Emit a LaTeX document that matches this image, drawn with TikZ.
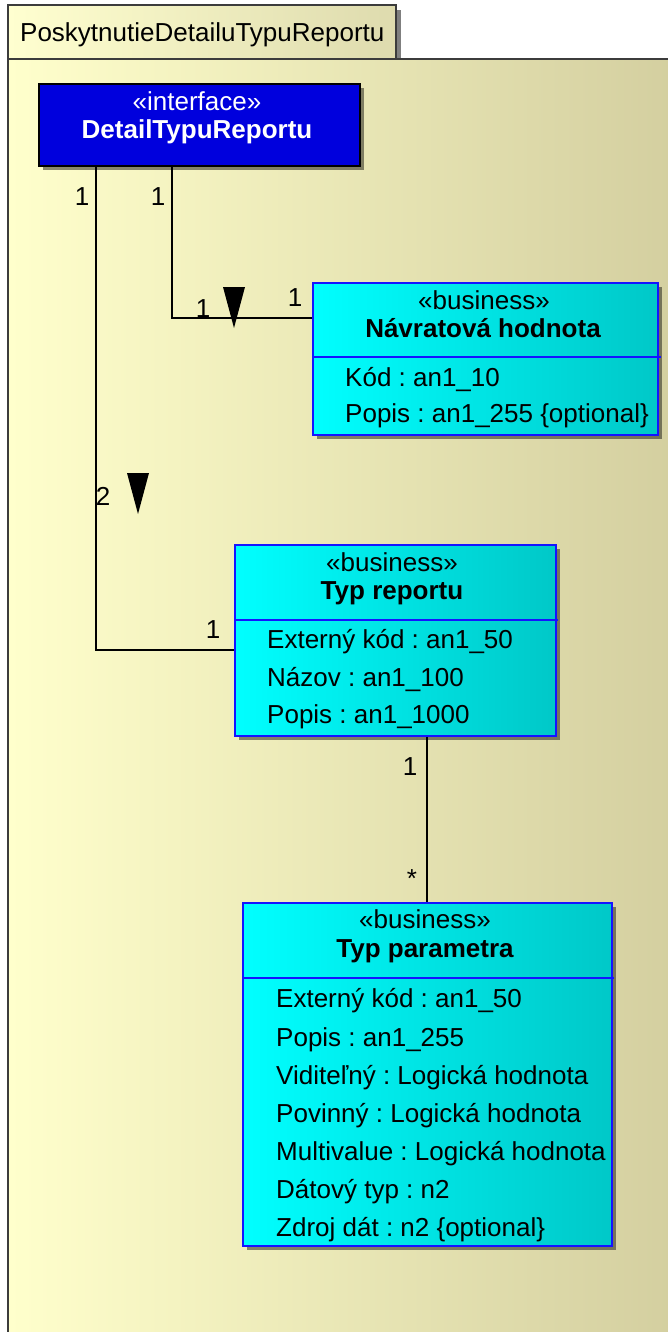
\documentclass[tikz,border=0pt]{standalone}
\usepackage{fontspec}
\setmainfont{Liberation Sans}
\usetikzlibrary{shadows, calc}
\definecolor{pkgleft}{RGB}{255,255,204}
\definecolor{pkgright}{RGB}{210,205,158}
\definecolor{tableft}{RGB}{255,255,208}
\definecolor{tabright}{RGB}{222,219,174}
\definecolor{framegray}{RGB}{60,60,60}
\definecolor{ifaceblue}{RGB}{0,0,221}
\definecolor{bizleft}{RGB}{0,255,255}
\definecolor{bizright}{RGB}{0,200,200}
\definecolor{bizborder}{RGB}{20,20,255}
\frenchspacing

\begin{document}
\begin{tikzpicture}[x=1pt, y=-1pt,
    every node/.style={font=\fontsize{26}{31}\selectfont, inner sep=0pt},
    umlshadow/.style={drop shadow={shadow xshift=4pt, shadow yshift=-4pt, fill=black, opacity=0.45}},
    ifacebox/.style={draw=black, line width=2pt, fill=ifaceblue, anchor=north west, umlshadow},
    bizbox/.style={draw=bizborder, line width=1.8pt, left color=bizleft, right color=bizright, anchor=north west, umlshadow},
    divider/.style={draw=bizborder, line width=1.8pt},
    stereo/.style={anchor=base},
    title/.style={anchor=base, font=\fontsize{26}{31}\selectfont\bfseries},
    attr/.style={anchor=base west},
    mult/.style={anchor=base},
    assoc/.style={line width=1.5pt, black}]

  \useasboundingbox (0,0) rectangle (668,1332);
  \clip (0,0) rectangle (668,1332);
  \fill[white] (0,0) rectangle (668,1332);

  % package frame
  \draw[framegray, line width=1.5pt, left color=tableft, right color=tabright,
        drop shadow={shadow xshift=5pt, shadow yshift=-5pt, fill=black, opacity=0.5}]
    (8,5) rectangle (396,59);
  \node[anchor=base west] (pkgname) at (20,42) {PoskytnutieDetailuTypuReportu};
  \draw[framegray, line width=1.5pt, left color=pkgleft, right color=pkgright]
    (8,59) rectangle (700,1360);

  % interface
  \node[ifacebox, minimum width=321pt, minimum height=82pt] (iface) at (38,83) {};
  \node[stereo, text=white] (ifacest) at (197,111) {«interface»};
  \node[title, text=white] (ifacename) at (197,139) {DetailTypuReportu};

  % Navratova hodnota
  \node[bizbox, minimum width=345pt, minimum height=152pt] (navrat) at (312,282) {};
  \draw[divider] (312,357) -- (661,357);
  \node[stereo] (navratst) at (484,309) {«business»};
  \node[title] (navratname) at (483,337) {Návratová hodnota};
  \node[attr] (navrat1) at (345,386) {Kód : an1\_10};
  \node[attr] (navrat2) at (345,422) {Popis : an1\_255 \{optional\}};

  % Typ reportu
  \node[bizbox, minimum width=321pt, minimum height=191pt] (typrep) at (234,544) {};
  \draw[divider] (234,620) -- (558,620);
  \node[stereo] (typrepst) at (392,571) {«business»};
  \node[title] (typrepname) at (392,599) {Typ reportu};
  \node[attr] (typrep1) at (267,648) {Externý kód : an1\_50};
  \node[attr] (typrep2) at (267,686) {Názov : an1\_100};
  \node[attr] (typrep3) at (267,723) {Popis : an1\_1000};

  % Typ parametra
  \node[bizbox, minimum width=369pt, minimum height=343pt] (typpar) at (242,902) {};
  \draw[divider] (242,978) -- (614,978);
  \node[stereo] (typparst) at (425,928) {«business»};
  \node[title] (typparname) at (425,957) {Typ parametra};
  \node[attr] (typpar1) at (276,1007) {Externý kód : an1\_50};
  \node[attr] (typpar2) at (276,1046) {Popis : an1\_255};
  \node[attr] (typpar3) at (276,1084) {Viditeľný : Logická hodnota};
  \node[attr] (typpar4) at (276,1122) {Povinný : Logická hodnota};
  \node[attr] (typpar5) at (276,1160) {Multivalue : Logická hodnota};
  \node[attr] (typpar6) at (276,1198) {Dátový typ : n2};
  \node[attr] (typpar7) at (276,1236) {Zdroj dát : n2 \{optional\}};

  % associations
  \draw[assoc] (iface.south -| 96,0) |- (typrep.west |- 0,650);
  \draw[assoc] (iface.south -| 172,0) |- (navrat.west |- 0,318);
  \draw[assoc] (typrep.south -| 427,0) -- (typpar.north -| 427,0);

  \fill (223,287) -- (245,287) -- (234,328) -- cycle;
  \fill (127,473) -- (149,473) -- (138,514) -- cycle;

  \node[mult] (m1) at (82,206) {1};
  \node[mult] (m2) at (158,206) {1};
  \node[mult] (m3) at (203,317) {1};
  \node[mult] (m4) at (295,306) {1};
  \node[mult] (m5) at (103,505) {2};
  \node[mult] (m6) at (213,638) {1};
  \node[mult] (m7) at (410,775) {1};
  \node[mult] (m8) at (412,887) {*};
\end{tikzpicture}
\end{document}
